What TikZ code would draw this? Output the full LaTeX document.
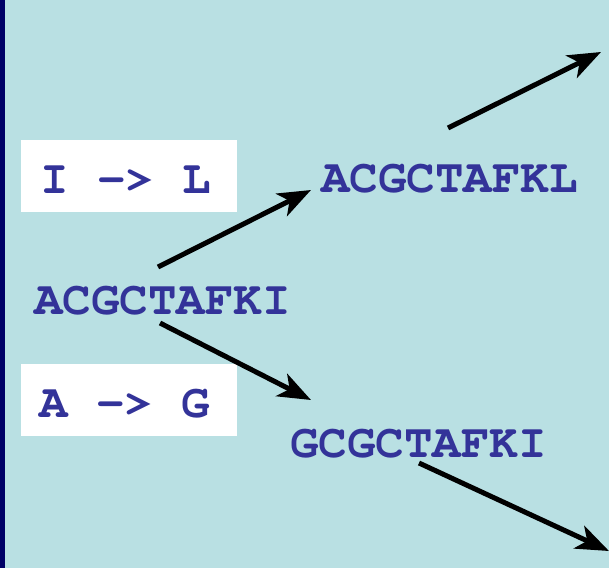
\documentclass[tikz,border=0pt]{standalone}
\usepackage[T1]{fontenc}
\renewcommand\ttdefault{pcr}
\usetikzlibrary{arrows.meta}
\definecolor{bgcyan}{RGB}{185,224,227}
\definecolor{seqblue}{RGB}{51,51,153}
\definecolor{navystripe}{RGB}{0,0,102}
\tikzset{
  seqtext/.style={anchor=base west, inner sep=0pt, text=seqblue,
    font=\ttfamily\bfseries\fontsize{47.5}{50}\selectfont},
  whitebox/.style={fill=white, draw=none, minimum width=216pt, minimum height=72pt, inner sep=0pt},
  mutarrow/.style={line width=5pt, draw=black,
    -{Stealth[length=33pt,width=25pt,inset=9pt]}}
}
\begin{document}
\begin{tikzpicture}[x=1pt,y=-1pt]
\useasboundingbox (0,0) rectangle (609,568);
\fill[bgcyan] (0,0) rectangle (609,568);
\fill[navystripe] (0,0) rectangle (5,568);
% mutation boxes
\node[whitebox] (box1) at (129,176) {};
\node[whitebox] (box2) at (129,399.5) {};
\node[seqtext] (mut1) at (40,193.5) {I -> L};
\node[seqtext] (mut2) at (39,417) {A -> G};
% sequences
\node[seqtext] (seq0) at (34,314) {ACGCTAFKI};
\node[seqtext] (seq1) at (321,192) {ACGCTAFKL};
\node[seqtext] (seq2) at (290,457) {GCGCTAFKI};
% arrow end points
\coordinate (a1s) at (158,267);
\coordinate (a1e) at (311,190);
\coordinate (a2s) at (160,323);
\coordinate (a2e) at (311,400);
\coordinate (a3s) at (448,128);
\coordinate (a3e) at (601,52);
\coordinate (a4s) at (419,463);
\coordinate (a4e) at (609,551);
\draw[mutarrow] (a1s) -- (a1e);
\draw[mutarrow] (a2s) -- (a2e);
\draw[mutarrow] (a3s) -- (a3e);
\draw[mutarrow] (a4s) -- (a4e);
\end{tikzpicture}
\end{document}
